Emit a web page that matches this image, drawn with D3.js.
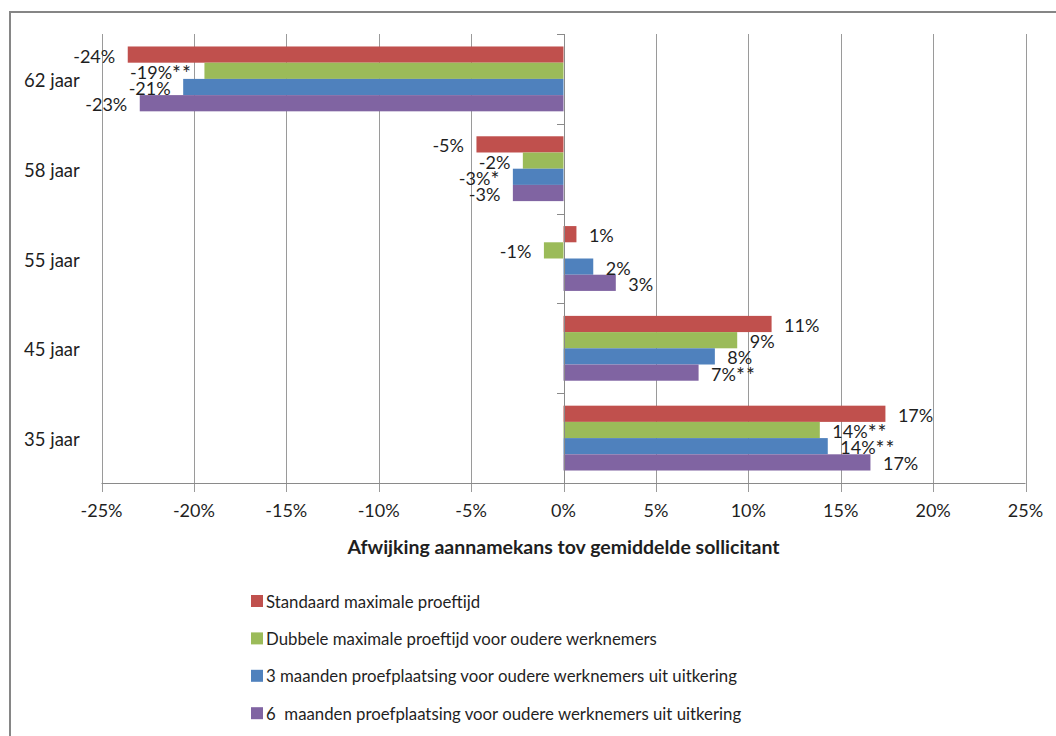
<!DOCTYPE html>
<html>
<head>
<meta charset="utf-8">
<script src="https://cdn.jsdelivr.net/npm/d3@7"></script>
<style>
  html, body { margin: 0; padding: 0; background: #fff; }
  svg { display: block; font-family: Lato, "Open Sans", sans-serif; }
</style>
</head>
<body>
<svg id="chart" width="1056" height="736"></svg>
<script>
// Age groups (top to bottom)
const categories = ["62 jaar", "58 jaar", "55 jaar", "45 jaar", "35 jaar"];

// Series names (legend order)
const seriesNames = [
  "Standaard maximale proeftijd",
  "Dubbele maximale proeftijd voor oudere werknemers",
  "3 maanden proefplaatsing voor oudere werknemers uit uitkering",
  "6  maanden proefplaatsing voor oudere werknemers uit uitkering"
];

// Deviation in hiring chance vs. average applicant, per age group
const standaard   = [-0.2358, -0.0471,  0.0070, 0.1126, 0.1742];
const dubbele     = [-0.1943, -0.0220, -0.0106, 0.0940, 0.1387];
const drieMaanden = [-0.2058, -0.0274,  0.0161, 0.0819, 0.1430];
const zesMaanden  = [-0.2293, -0.0274,  0.0283, 0.0731, 0.1661];

// Significance markers appended to the data labels
const sigStandaard   = ["", "", "", "", ""];
const sigDubbele     = ["**", "", "", "", "**"];
const sigDrieMaanden = ["", "*", "", "", "**"];
const sigZesMaanden  = ["", "", "", "**", ""];

// Value-axis ticks
const xTicks = [-0.25, -0.20, -0.15, -0.10, -0.05, 0, 0.05, 0.10, 0.15, 0.20, 0.25];

const colors = ["#C0504D", "#9BBB59", "#4F81BD", "#8064A2"];
const axisTitle = "Afwijking aannamekans tov gemiddelde sollicitant";

const seriesValues = [standaard, dubbele, drieMaanden, zesMaanden];
const seriesSig = [sigStandaard, sigDubbele, sigDrieMaanden, sigZesMaanden];

const svg = d3.select("#chart");
const textColor = "#1f1f1f";
const pct = v => d3.format(".0%")(v).replace("\u2212", "-");

// Outer chart frame
svg.append("rect")
  .attr("x", 10).attr("y", 12)
  .attr("width", 1100).attr("height", 800)
  .attr("fill", "none")
  .attr("stroke", "#868686")
  .attr("stroke-width", 2);

const plot = { left: 101.5, right: 1025.5, top: 34, bottom: 483 };

const x = d3.scaleLinear().domain([-0.25, 0.25]).range([plot.left, plot.right]);
const y0 = d3.scaleBand().domain(categories).range([plot.top, plot.bottom]);
const y1 = d3.scaleBand().domain(d3.range(seriesNames.length))
  .range([0, y0.bandwidth()]).paddingOuter(0.77).paddingInner(0);

// Vertical gridlines, extended below the axis as tick marks
svg.append("g").selectAll("line")
  .data(xTicks)
  .join("line")
  .attr("x1", d => Math.round(x(d)) + 0.5)
  .attr("x2", d => Math.round(x(d)) + 0.5)
  .attr("y1", plot.top)
  .attr("y2", plot.bottom + 9)
  .attr("stroke", "#9a9a9a")
  .attr("stroke-width", 1);

// Horizontal value axis line
svg.append("line")
  .attr("x1", x(-0.25)).attr("x2", x(0.25))
  .attr("y1", plot.bottom + 0.5).attr("y2", plot.bottom + 0.5)
  .attr("stroke", "#8a8a8a");

// Tick labels
svg.append("g").selectAll("text")
  .data(xTicks)
  .join("text")
  .attr("x", d => x(d))
  .attr("y", 510)
  .attr("text-anchor", "middle")
  .attr("dominant-baseline", "central")
  .attr("font-size", 18)
  .attr("fill", textColor)
  .text(d => pct(d));

// Axis title
svg.append("text")
  .attr("x", x(0))
  .attr("y", 546)
  .attr("text-anchor", "middle")
  .attr("dominant-baseline", "central")
  .attr("font-size", 19.5)
  .attr("font-weight", "bold")
  .attr("fill", textColor)
  .text(axisTitle);

// Bars
const groups = svg.append("g").selectAll("g")
  .data(categories)
  .join("g")
  .attr("transform", c => `translate(0,${y0(c)})`);

const rowsOf = (c, ci) => seriesValues.map((vals, si) => ({ si, v: vals[ci], sig: seriesSig[si][ci] }));

groups.selectAll("rect")
  .data(rowsOf)
  .join("rect")
  .attr("x", d => Math.min(x(0), x(d.v)))
  .attr("width", d => Math.abs(x(d.v) - x(0)))
  .attr("y", d => y1(d.si))
  .attr("height", y1.bandwidth())
  .attr("fill", d => colors[d.si]);

// Category axis along the zero line with small ticks
svg.append("line")
  .attr("x1", Math.round(x(0)) + 0.5).attr("x2", Math.round(x(0)) + 0.5)
  .attr("y1", plot.top).attr("y2", plot.bottom)
  .attr("stroke", "#8a8a8a");

svg.append("g").selectAll("line")
  .data(categories.map(c => y0(c)).concat([plot.bottom]))
  .join("line")
  .attr("x1", Math.round(x(0)) - 7).attr("x2", Math.round(x(0)) + 0.5)
  .attr("y1", d => Math.round(d) + 0.5).attr("y2", d => Math.round(d) + 0.5)
  .attr("stroke", "#8a8a8a");

// Data labels outside bar ends
const labels = groups.selectAll("text")
  .data(rowsOf)
  .join("text")
  .attr("x", d => d.v >= 0 ? x(d.v) + 12.5 : x(d.v) - 12.5)
  .attr("y", d => y1(d.si) + y1.bandwidth() / 2 + 1)
  .attr("text-anchor", d => d.v >= 0 ? "start" : "end")
  .attr("dominant-baseline", "central")
  .attr("font-size", 18)
  .attr("fill", textColor);

labels.append("tspan").text(d => pct(d.v));
labels.append("tspan")
  .attr("font-size", 21)
  .attr("letter-spacing", 1)
  .text(d => d.sig);

// Category labels
svg.append("g").selectAll("text")
  .data(categories)
  .join("text")
  .attr("x", 24)
  .attr("y", c => y0(c) + y0.bandwidth() / 2 + 1)
  .attr("dominant-baseline", "central")
  .attr("font-size", 18.5)
  .attr("fill", textColor)
  .text(c => c);

// Legend
const legend = svg.append("g").selectAll("g")
  .data(seriesNames)
  .join("g")
  .attr("transform", (d, i) => `translate(251,${601 + i * 37.4})`);

legend.append("rect")
  .attr("x", 0).attr("y", -6)
  .attr("width", 12).attr("height", 12)
  .attr("fill", (d, i) => colors[i]);

legend.append("text")
  .attr("x", 15)
  .attr("y", 0)
  .attr("dominant-baseline", "central")
  .attr("font-size", 16.8)
  .attr("fill", textColor)
  .attr("xml:space", "preserve")
  .style("white-space", "pre")
  .text(d => d);
</script>
</body>
</html>
